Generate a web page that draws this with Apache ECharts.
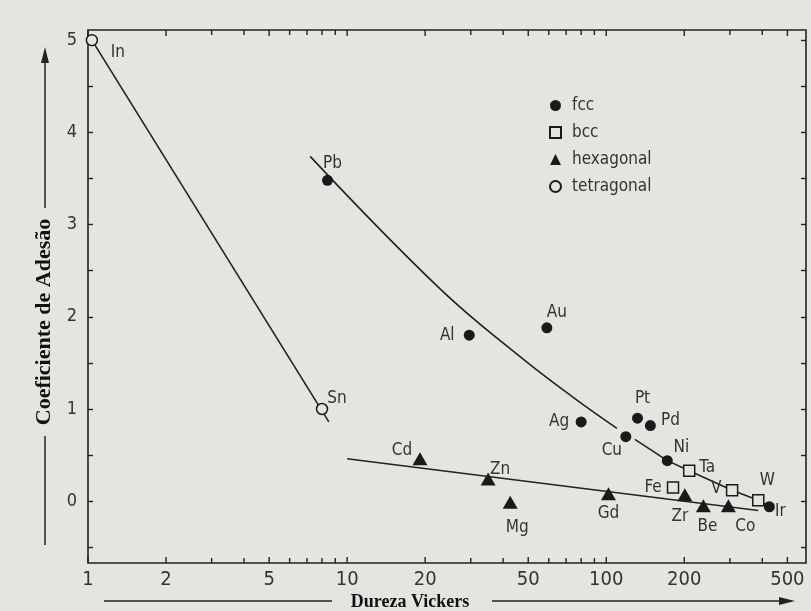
<!DOCTYPE html>
<html>
<head>
<meta charset="utf-8">
<script src="https://cdn.jsdelivr.net/npm/echarts@6/dist/echarts.min.js"></script>
<style>
  html, body { margin: 0; padding: 0; background: #e6e4e1; }
  #chart { width: 811px; height: 611px; }
</style>
</head>
<body>
<div id="chart"></div>
<script>
// Metals grouped by crystal structure: symbol, Vickers hardness, adhesion coefficient
const fccNames = ['Pb', 'Al', 'Au', 'Ag', 'Cu', 'Pt', 'Pd', 'Ni', 'Ir'];
const fccHardness = [8.4, 29.6, 59, 80, 119, 132, 148, 172, 426];
const fccAdhesion = [3.48, 1.80, 1.88, 0.86, 0.70, 0.90, 0.82, 0.44, -0.06];

const bccNames = ['Fe', 'Ta', 'V', 'W'];
const bccHardness = [181, 209, 306, 386];
const bccAdhesion = [0.15, 0.33, 0.12, 0.01];

const hexNames = ['Cd', 'Zn', 'Mg', 'Gd', 'Zr', 'Be', 'Co'];
const hexHardness = [19.1, 35, 42.6, 102, 201, 237, 296];
const hexAdhesion = [0.46, 0.24, -0.01, 0.08, 0.07, -0.05, -0.05];

const tetNames = ['In', 'Sn'];
const tetHardness = [1.035, 8.0];
const tetAdhesion = [5.0, 1.0];

// Trend lines
const tetTrendX = [1.035, 8.5];
const tetTrendY = [5.0, 0.86];
const fccTrendX = [7.2, 22.9, 47.8, 75.9, 110];
const fccTrendY = [3.74, 2.30, 1.54, 1.11, 0.79];
const fccTailX = [129, 172, 209, 306, 386, 426];
const fccTailY = [0.67, 0.44, 0.33, 0.12, 0.01, -0.06];
const hexTrendX = [10, 386];
const hexTrendY = [0.46, -0.10];

// Axis ticks
const xMajorTicks = [1, 2, 5, 10, 20, 50, 100, 200, 500];
const xMinorTicks = [3, 4, 6, 7, 8, 9, 30, 40, 60, 70, 80, 90, 300, 400];
const yTicks = [-0.5, 0, 0.5, 1, 1.5, 2, 2.5, 3, 3.5, 4, 4.5, 5];
const yTickLabels = [0, 1, 2, 3, 4, 5];

const X_MIN = 1, X_MAX = 590, Y_MIN = -0.67, Y_MAX = 5.11;

// Where each element's symbol text sits relative to its marker (px)
const labelOffset = {
  In: [26, 12], Pb: [5, -17], Al: [-22, 0], Au: [10, -15], Ag: [-22, 0],
  Pt: [5, -20], Pd: [20, -5], Cu: [-14, 14], Ni: [14, -13], Ta: [18, -3],
  Fe: [-20, 0], V: [-16, -2], W: [9, -20], Ir: [11, 5], Cd: [-18, -8],
  Zn: [12, -10], Mg: [7, 25], Gd: [0, 20], Zr: [-5, 22], Be: [4, 21],
  Co: [17, 21], Sn: [15, -10]
};

const INK = '#222';
const TEXT = '#333';
const BG = '#e6e4e1';
const LABEL_FONT = "'DejaVu Sans Condensed', 'Liberation Sans Narrow', 'Roboto Condensed', 'DejaVu Sans', sans-serif";
const SERIF = "'Liberation Serif', 'DejaVu Serif', serif";

function points(names, xs, ys) {
  return names.map((n, i) => ({
    name: n,
    value: [xs[i], ys[i]],
    label: { offset: labelOffset[n] || [0, 0] }
  }));
}
function pairs(xs, ys) { return xs.map((x, i) => [x, ys[i]]); }

const pointLabel = {
  show: true,
  position: 'inside',
  formatter: '{b}',
  color: TEXT,
  fontSize: 17,
  fontFamily: LABEL_FONT,
  align: 'center',
  verticalAlign: 'middle'
};

function trend(name, data, smooth) {
  return {
    name: name, type: 'line', data: data, smooth: smooth || false,
    symbol: 'none', silent: true, z: 1,
    lineStyle: { color: INK, width: 1.6 }
  };
}

const tickData = xMajorTicks.map(v => [v, 1]).concat(xMinorTicks.map(v => [v, 0]));

const chart = echarts.init(document.getElementById('chart'), null, { renderer: 'canvas' });

chart.setOption({
  backgroundColor: BG,
  animation: false,
  grid: {
    left: 88, right: 5, top: 30, bottom: 48,
    show: true, borderColor: INK, borderWidth: 1.6, backgroundColor: 'transparent',
    outerBoundsMode: 'none'
  },
  legend: {
    data: ['fcc', 'bcc', 'hexagonal', 'tetragonal'],
    orient: 'vertical',
    left: 544, top: 92,
    itemWidth: 11, itemHeight: 11, itemGap: 10,
    textStyle: { color: TEXT, fontSize: 17, fontFamily: LABEL_FONT, padding: [0, 0, 0, 6] }
  },
  xAxis: {
    type: 'log', logBase: 10, min: X_MIN, max: X_MAX,
    axisLine: { show: false }, axisTick: { show: false },
    axisLabel: { show: false }, splitLine: { show: false }
  },
  yAxis: [
    {
      type: 'value', min: Y_MIN, max: Y_MAX, position: 'left',
      axisLine: { show: false },
      axisTick: { show: true, inside: true, length: 5, customValues: yTicks, lineStyle: { color: INK, width: 1.4 } },
      axisLabel: { customValues: yTickLabels, margin: 11, color: TEXT, fontSize: 18, fontFamily: LABEL_FONT },
      splitLine: { show: false }
    },
    {
      type: 'value', min: Y_MIN, max: Y_MAX, position: 'right',
      axisLine: { show: false },
      axisTick: { show: true, inside: true, length: 5, customValues: yTicks, lineStyle: { color: INK, width: 1.4 } },
      axisLabel: { show: false },
      splitLine: { show: false }
    }
  ],
  series: [
    trend('tetragonal trend', pairs(tetTrendX, tetTrendY)),
    trend('fcc trend', pairs(fccTrendX, fccTrendY), 0.4),
    trend('fcc tail', pairs(fccTailX, fccTailY)),
    trend('hexagonal trend', pairs(hexTrendX, hexTrendY)),
    {
      name: 'fcc', type: 'scatter', symbol: 'circle', symbolSize: 11, z: 3,
      itemStyle: { color: '#1a1a1a', opacity: 1 },
      label: pointLabel,
      data: points(fccNames, fccHardness, fccAdhesion)
    },
    {
      name: 'bcc', type: 'scatter', symbol: 'rect', symbolSize: 11, z: 3,
      itemStyle: { color: BG, borderColor: '#1a1a1a', borderWidth: 1.5, opacity: 1 },
      label: pointLabel,
      data: points(bccNames, bccHardness, bccAdhesion)
    },
    {
      name: 'hexagonal', type: 'scatter', symbol: 'triangle', symbolSize: [15, 13], z: 3,
      itemStyle: { color: '#1a1a1a', opacity: 1 },
      label: pointLabel,
      data: points(hexNames, hexHardness, hexAdhesion)
    },
    {
      name: 'tetragonal', type: 'scatter', symbol: 'circle', symbolSize: 11, z: 3,
      itemStyle: { color: BG, borderColor: '#1a1a1a', borderWidth: 1.5, opacity: 1 },
      label: pointLabel,
      data: points(tetNames, tetHardness, tetAdhesion)
    },
    {
      // Log-axis ticks on bottom and top edges, with labels on the decades 1-2-5
      name: 'x ticks', type: 'custom', silent: true, clip: false, z: 2,
      data: tickData,
      renderItem: function (params, api) {
        const v = api.value(0);
        const major = api.value(1) === 1;
        const b = api.coord([v, Y_MIN]);
        const t = api.coord([v, Y_MAX]);
        const len = major ? 6 : 5;
        const children = [
          { type: 'line', shape: { x1: b[0], y1: b[1], x2: b[0], y2: b[1] - len }, style: { stroke: INK, lineWidth: 1.4 } },
          { type: 'line', shape: { x1: t[0], y1: t[1], x2: t[0], y2: t[1] + len }, style: { stroke: INK, lineWidth: 1.4 } }
        ];
        if (major) {
          children.push({
            type: 'text',
            style: {
              text: String(v), x: b[0], y: b[1] + 17,
              align: 'center', verticalAlign: 'middle',
              fill: TEXT, fontSize: 20, fontFamily: LABEL_FONT
            }
          });
        }
        return { type: 'group', children: children };
      }
    }
  ],
  graphic: [
    // vertical axis title with arrow
    { type: 'line', shape: { x1: 45, y1: 545, x2: 45, y2: 436 }, style: { stroke: INK, lineWidth: 1.5 } },
    { type: 'line', shape: { x1: 45, y1: 208, x2: 45, y2: 60 }, style: { stroke: INK, lineWidth: 1.5 } },
    { type: 'polygon', shape: { points: [[45, 47], [41, 63], [49, 63]] }, style: { fill: INK } },
    {
      type: 'text', x: 44, y: 322, rotation: Math.PI / 2,
      style: {
        text: 'Coeficiente de Adesão', align: 'center', verticalAlign: 'middle',
        fill: '#111', font: 'bold 22px ' + SERIF
      }
    },
    // horizontal axis title with arrow
    { type: 'line', shape: { x1: 104, y1: 601, x2: 332, y2: 601 }, style: { stroke: INK, lineWidth: 1.5 } },
    { type: 'line', shape: { x1: 492, y1: 601, x2: 781, y2: 601 }, style: { stroke: INK, lineWidth: 1.5 } },
    { type: 'polygon', shape: { points: [[795, 601], [779, 597], [779, 605]] }, style: { fill: INK } },
    {
      type: 'text', x: 410, y: 602,
      style: {
        text: 'Dureza Vickers', align: 'center', verticalAlign: 'middle',
        fill: '#111', font: 'bold 18px ' + SERIF
      }
    }
  ]
});
</script>
</body>
</html>
